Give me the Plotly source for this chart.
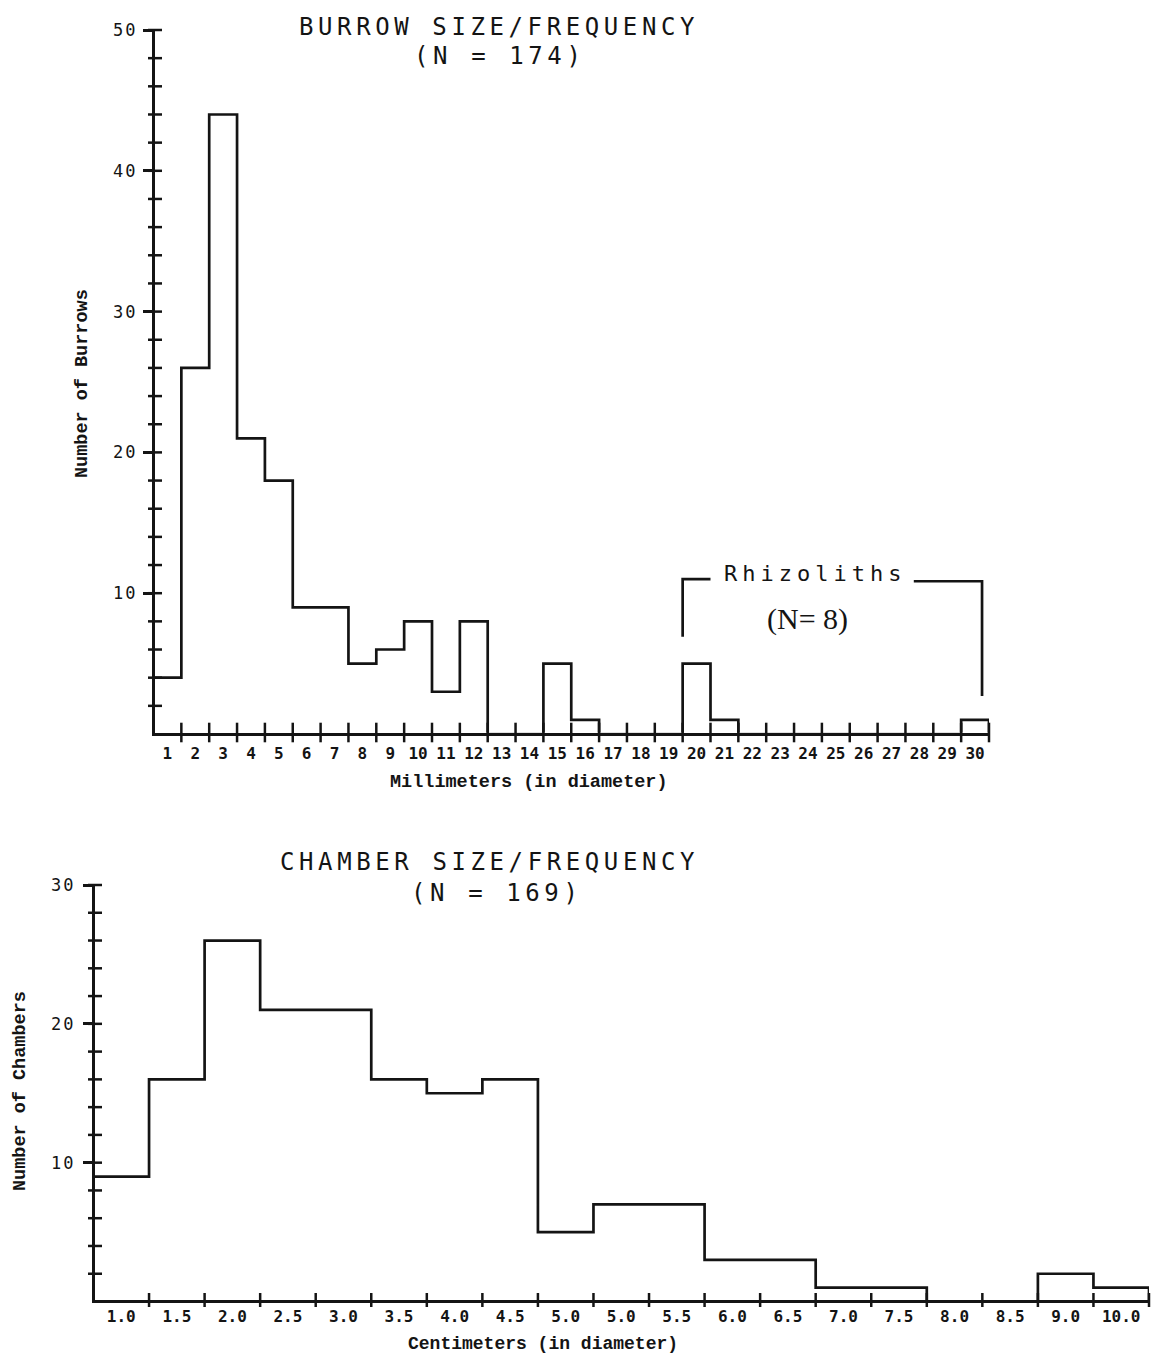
import plotly.graph_objects as go

W, H = 1153, 1356

# ---------------- data ----------------
burrow_labels = [str(i) for i in range(1, 31)]
burrow_counts = [4, 26, 44, 21, 18, 9, 9, 5, 6, 8, 3, 8, 0, 0, 5, 1, 0, 0, 0, 5,
                 1, 0, 0, 0, 0, 0, 0, 0, 0, 1]
burrow_yticks = [10, 20, 30, 40, 50]
burrow_yminor = list(range(2, 51, 2))

chamber_labels = ["1.0", "1.5", "2.0", "2.5", "3.0", "3.5", "4.0", "4.5", "5.0", "5.0",
                  "5.5", "6.0", "6.5", "7.0", "7.5", "8.0", "8.5", "9.0", "10.0"]
chamber_counts = [9, 16, 26, 21, 21, 16, 15, 16, 5, 7, 7, 3, 3, 1, 1, 0, 0, 2, 1]
chamber_yticks = [10, 20, 30]
chamber_yminor = list(range(2, 31, 2))

# Rhizolith bracket (in burrow-chart data units)
rhizo_x = [19, 19, 20.0, None, 27.3, 29.75, 29.75]
rhizo_y = [6.9, 11.0, 11.0, None, 10.85, 10.85, 2.7]

# ---------------- helpers ----------------
def px(x):
    return x / W

def py(y):
    return 1 - y / H

def sp(text, ls):
    return '<span style="letter-spacing:%gpx">%s</span>' % (ls, text)

def step_xy(counts):
    n = len(counts)
    xs = [0] + list(range(n)) + [n, n]
    ys = [0] + list(counts) + [counts[-1], 0]
    return xs, ys

PLOT_FONT = "DejaVu Sans Mono"
TYPE_FONT = "Liberation Mono"
INK = "#141414"
AXW = 3  # axis line width

fig = go.Figure()

def add_ticks(xs, ys, symbol, size, xa, ya):
    fig.add_trace(go.Scatter(x=xs, y=ys, mode="markers", xaxis=xa, yaxis=ya, cliponaxis=False,
                             marker=dict(symbol=symbol, size=size, color=INK,
                                         line=dict(width=2.5, color=INK)),
                             showlegend=False, hoverinfo="skip"))

nb = len(burrow_counts)
nc = len(chamber_counts)

# pixel geometry of the two plot areas
T_L, T_R, T_B, T_T = 155, 989, 732.5, 30
B_L, B_R, B_B, B_T = 95, 1149, 1300, 885

top_xdom = [px(T_L), px(T_R)]
top_ydom = [py(T_B), py(T_T)]
bot_xdom = [px(B_L), px(B_R)]
bot_ydom = [py(B_B), py(B_T)]

# shift ranges by half an axis-line width so zero sits on the drawn axis line
tx0 = (AXW / 2) / ((T_R - T_L) / nb)
ty0 = (AXW / 2) / ((T_B - T_T) / 50)
bx0 = (AXW / 2) / ((B_R - B_L) / nc)
by0 = (AXW / 2) / ((B_B - B_T) / 30)

bx, by = step_xy(burrow_counts)
fig.add_trace(go.Scatter(x=bx, y=by, mode="lines", line=dict(shape="hv", color=INK, width=2.7),
                         xaxis="x", yaxis="y", cliponaxis=False, showlegend=False, hoverinfo="skip"))
fig.add_trace(go.Scatter(x=rhizo_x, y=rhizo_y, mode="lines", line=dict(color=INK, width=2.7),
                         xaxis="x", yaxis="y", cliponaxis=False, showlegend=False, hoverinfo="skip"))
cx, cy = step_xy(chamber_counts)
fig.add_trace(go.Scatter(x=cx, y=cy, mode="lines", line=dict(shape="hv", color=INK, width=2.7),
                         xaxis="x2", yaxis="y2", cliponaxis=False, showlegend=False, hoverinfo="skip"))

# crossing tick marks at bin edges / minor y values (placed on the axis edge)
bedges = list(range(1, nb + 1))
add_ticks(bedges, [ty0] * len(bedges), "line-ns", 14, "x", "y")
add_ticks([tx0] * len(burrow_yminor), burrow_yminor, "line-ew", 10, "x", "y")
cedges = list(range(1, nc + 1))
add_ticks(cedges, [by0] * len(cedges), "line-ns", 10, "x2", "y2")
add_ticks([bx0] * len(chamber_yminor), chamber_yminor, "line-ew", 10, "x2", "y2")

common = dict(showgrid=False, zeroline=False, fixedrange=True)

fig.update_layout(
    width=W, height=H, margin=dict(l=0, r=0, t=0, b=0), autosize=False,
    template="none", paper_bgcolor="white", plot_bgcolor="white", showlegend=False,
    xaxis=dict(domain=top_xdom, anchor="y", range=[tx0, nb], showline=True, linecolor=INK, linewidth=AXW,
               tickmode="array", tickvals=[i + 0.5 for i in range(nb)], ticktext=burrow_labels,
               ticks="", ticklabelstandoff=4,
               tickfont=dict(family=PLOT_FONT, size=16, color=INK, weight="bold"), **common),
    yaxis=dict(domain=top_ydom, anchor="x", range=[ty0, 50], showline=True, linecolor=INK, linewidth=AXW,
               tickmode="array", tickvals=burrow_yticks, ticktext=[sp(str(v), 2) for v in burrow_yticks],
               ticks="outside", ticklen=9, tickwidth=2.5, tickcolor=INK, ticklabelstandoff=2,
               tickfont=dict(family=PLOT_FONT, size=17, color=INK), **common),
    xaxis2=dict(domain=bot_xdom, anchor="y2", range=[bx0, nc], showline=True, linecolor=INK, linewidth=AXW,
                tickmode="array", tickvals=[i + 0.5 for i in range(nc)], ticktext=chamber_labels,
                ticks="", ticklabelstandoff=0,
                tickfont=dict(family=PLOT_FONT, size=16, color=INK, weight="bold"), **common),
    yaxis2=dict(domain=bot_ydom, anchor="x2", range=[by0, 30], showline=True, linecolor=INK, linewidth=AXW,
                tickmode="array", tickvals=chamber_yticks, ticktext=[sp(str(v), 2) for v in chamber_yticks],
                ticks="outside", ticklen=9, tickwidth=2.5, tickcolor=INK, ticklabelstandoff=4,
                tickfont=dict(family=PLOT_FONT, size=17, color=INK), **common),
)

def note(text, x, y, family, size, angle=0, bold=False, ls=None, xref="paper", yref="paper"):
    t = sp(text, ls) if ls else text
    if bold:
        t = "<b>" + t + "</b>"
    if xref == "paper":
        x, y = px(x), py(y)
    fig.add_annotation(text=t, x=x, y=y, xref=xref, yref=yref, showarrow=False,
                       xanchor="center", yanchor="middle", textangle=angle,
                       font=dict(family=family, size=size, color=INK))

# titles
note("BURROW SIZE/FREQUENCY", 499, 27, PLOT_FONT, 24, ls=4.6)
note("(N = 174)", 499, 56, PLOT_FONT, 24, ls=4.6)
note("CHAMBER SIZE/FREQUENCY", 489, 862, PLOT_FONT, 24, ls=4.6)
note("(N = 169)", 496, 893, PLOT_FONT, 24, ls=4.6)

# axis titles
note("Number of Burrows", 82, 384, TYPE_FONT, 18.5, angle=-90, bold=True)
note("Millimeters (in diameter)", 529, 782, TYPE_FONT, 18.5, bold=True)
note("Number of Chambers", 20, 1091, TYPE_FONT, 18.5, angle=-90, bold=True)
note("Centimeters (in diameter)", 543, 1344, TYPE_FONT, 18, bold=True)

# Rhizoliths labels (data coordinates of burrow chart)
note("Rhizoliths", 23.75, 11.4, PLOT_FONT, 22, ls=5, xref="x", yref="y")
note("(N= 8)", 23.5, 8.2, "Liberation Serif", 30, xref="x", yref="y")

fig.write_html("out.html")
